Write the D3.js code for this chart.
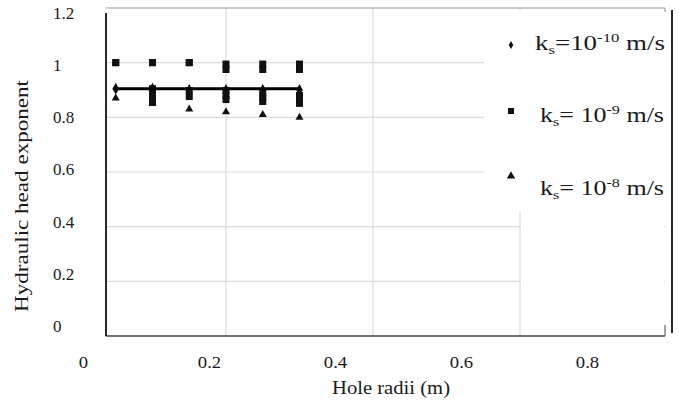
<!DOCTYPE html>
<html>
<head>
<meta charset="utf-8">
<script src="https://cdn.jsdelivr.net/npm/d3@7"></script>
<style>
  html, body { margin: 0; padding: 0; background: #fff; }
  svg { display: block; font-family: "Liberation Serif", "Times New Roman", serif; }
</style>
</head>
<body>
<svg id="chart" width="679" height="401"></svg>
<script>
// hole radii (m)
const radii = [0.05, 0.1, 0.15, 0.2, 0.25, 0.3];
// ks = 1e-10 m/s (diamonds)
const ks10 = [0.905, 0.905, 0.9, 0.9, 0.9, 0.9];
// ks = 1e-9 m/s (squares), several runs per radius
const ks9a = [1.0, 1.0, 1.0, 0.995, 0.995, 0.995];
const ks9b = [1.0, 1.0, 1.0, 0.975, 0.975, 0.975];
const ks9c = [null, 0.905, 0.898, 0.898, 0.887, 0.88];
const ks9d = [null, 0.855, 0.876, 0.865, 0.858, 0.851];
const ks9e = [null, 0.88, null, 0.88, 0.872, 0.865];
// ks = 1e-8 m/s (triangles)
const ks8 = [0.87, 0.85, 0.83, 0.82, 0.81, 0.80];
// fitted line
const fitX = [0.05, 0.3];
const fitY = [0.905, 0.905];

const xTicks = [0, 0.2, 0.4, 0.6, 0.8];
const yTicks = [0, 0.2, 0.4, 0.6, 0.8, 1, 1.2];
const legendLabels = [
  { sym: d3.symbolDiamond, size: 18, pre: "=10", exp: "-10" },
  { sym: d3.symbolSquare,  size: 36, pre: "= 10", exp: "-9" },
  { sym: d3.symbolTriangle, size: 30, pre: "= 10", exp: "-8" }
];

const svg = d3.select("#chart");
const pLeft = 106, pRight = 665, pTop = 8, pBottom = 336;

const x = d3.scaleLinear().domain([0, 0.8]).range([79, 667]);
const y = d3.scaleLinear().domain([0, 1.2]).range([pBottom, pTop]);
// tick labels sit a little off the grid in the original figure
const xLab = d3.scaleLinear().domain([0, 0.8]).range([83, 587]);
const yLab = d3.scaleLinear().domain([0, 1.2]).range([326, 13]);

// grid
svg.append("g").selectAll("line").data(yTicks.filter(v => v > 0 && v < 1.2))
  .join("line")
    .attr("x1", pLeft).attr("x2", pRight)
    .attr("y1", d => y(d)).attr("y2", d => y(d))
    .attr("stroke", "#dcdcdc").attr("stroke-width", 1.2);
svg.append("g").selectAll("line").data(xTicks.filter(v => v > 0 && v < 0.8))
  .join("line")
    .attr("x1", d => x(d)).attr("x2", d => x(d))
    .attr("y1", pTop).attr("y2", pBottom)
    .attr("stroke", "#dcdcdc").attr("stroke-width", 1.2);

// white legend panel pasted over the grid
svg.append("rect").attr("x", 484).attr("y", 10).attr("width", 184).attr("height", 201).attr("fill", "#fff");
svg.append("rect").attr("x", 521).attr("y", 211).attr("width", 143).attr("height", 124).attr("fill", "#fff");

// frame
svg.append("line").attr("x1", pLeft).attr("x2", pRight).attr("y1", y(1.2)).attr("y2", y(1.2))
  .attr("stroke", "#9a9a9a").attr("stroke-width", 1.2);
svg.append("line").attr("x1", pRight).attr("x2", pRight).attr("y1", y(1.2)).attr("y2", y(1.2) + 4)
  .attr("stroke", "#9a9a9a").attr("stroke-width", 1.2);
svg.append("line").attr("x1", pLeft).attr("x2", pRight).attr("y1", pBottom).attr("y2", pBottom)
  .attr("stroke", "#444").attr("stroke-width", 1.5);
svg.append("line").attr("x1", pRight).attr("x2", pRight).attr("y1", pBottom - 11).attr("y2", pBottom)
  .attr("stroke", "#666").attr("stroke-width", 1.2);
svg.append("line").attr("x1", pLeft).attr("x2", pLeft).attr("y1", 13).attr("y2", pBottom)
  .attr("stroke", "#111").attr("stroke-width", 1.8);
svg.append("line").attr("x1", 672).attr("x2", 672).attr("y1", 10).attr("y2", 333)
  .attr("stroke", "#111").attr("stroke-width", 1.8);

// points
function drawSeries(vals, sym, size) {
  const pts = radii.map((r, i) => [r, vals[i]]).filter(d => d[1] != null);
  svg.append("g").selectAll("path").data(pts)
    .join("path")
      .attr("transform", d => `translate(${x(d[0])},${y(d[1])})`)
      .attr("d", d3.symbol(sym, size)())
      .attr("fill", "#111");
}
drawSeries(ks10, d3.symbolDiamond, 40);
drawSeries(ks9a, d3.symbolSquare, 49);
drawSeries(ks9b, d3.symbolSquare, 49);
drawSeries(ks9c, d3.symbolSquare, 49);
drawSeries(ks9d, d3.symbolSquare, 49);
drawSeries(ks9e, d3.symbolSquare, 49);
drawSeries(ks8, d3.symbolTriangle, 28);

svg.append("path")
  .datum(fitX.map((v, i) => [v, fitY[i]]))
  .attr("d", d3.line().x(d => x(d[0])).y(d => y(d[1])))
  .attr("stroke", "#000").attr("stroke-width", 3).attr("fill", "none")
  .attr("stroke-linecap", "square");

// tick labels
const xAx = svg.append("g").attr("transform", "translate(0,353)")
  .call(d3.axisBottom(xLab).tickValues(xTicks).tickSize(0).tickFormat(d3.format("")));
xAx.select(".domain").remove();
xAx.selectAll("text").attr("font-family", "Liberation Serif").attr("font-size", 17)
  .attr("fill", "#1a1a1a").attr("transform", "scale(1.1,1)");

const yAx = svg.append("g").attr("transform", "translate(53,0)")
  .call(d3.axisLeft(yLab).tickValues(yTicks).tickSize(0).tickFormat(d3.format("")));
yAx.select(".domain").remove();
yAx.selectAll("text").attr("font-family", "Liberation Serif").attr("font-size", 17)
  .attr("fill", "#1a1a1a").attr("text-anchor", "start").attr("x", 0);

// axis titles
svg.append("text").attr("x", 391).attr("y", 394).attr("text-anchor", "middle")
  .attr("font-size", 18).attr("fill", "#1a1a1a")
  .attr("textLength", 118).attr("lengthAdjust", "spacingAndGlyphs")
  .text("Hole radii (m)");
svg.append("text").attr("transform", "translate(28,196) rotate(-90)").attr("text-anchor", "middle")
  .attr("font-size", 18).attr("fill", "#1a1a1a")
  .attr("textLength", 232).attr("lengthAdjust", "spacingAndGlyphs")
  .text("Hydraulic head exponent");

// legend
const legY = [45, 111, 176];
const textY = [50, 122, 195];
const textX = [535, 540, 540];
const textW = [130, 124, 124];
legendLabels.forEach((l, i) => {
  svg.append("path").attr("transform", `translate(511,${legY[i]})`)
    .attr("d", d3.symbol(l.sym, l.size)()).attr("fill", "#111");
  const t = svg.append("text").attr("x", textX[i]).attr("y", textY[i])
    .attr("font-size", 21).attr("fill", "#1a1a1a")
    .attr("textLength", textW[i]).attr("lengthAdjust", "spacingAndGlyphs");
  t.append("tspan").text("k");
  t.append("tspan").attr("font-size", 13).attr("dy", 4).text("s");
  t.append("tspan").attr("dy", -4).text(l.pre);
  t.append("tspan").attr("font-size", 13).attr("dy", -8).text(l.exp);
  t.append("tspan").attr("dy", 8).text(" m/s");
});
</script>
</body>
</html>
